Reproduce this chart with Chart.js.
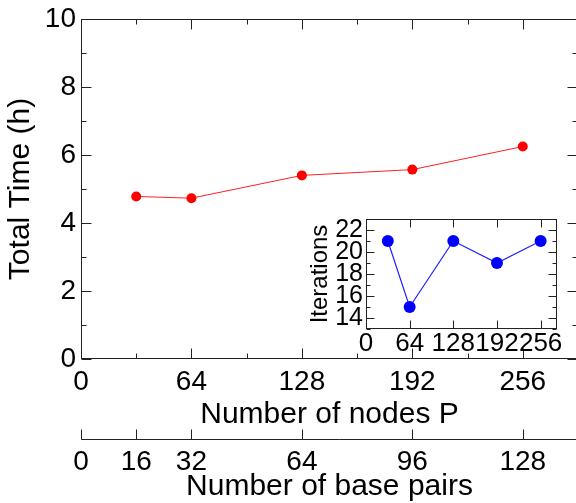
<!DOCTYPE html>
<html>
<head>
<meta charset="utf-8">
<script src="https://cdn.jsdelivr.net/npm/chart.js@4"></script>
<style>
  html, body { margin: 0; padding: 0; background: #fff; overflow: hidden; width: 576px; height: 503px; }
  #main { position: absolute; left: 0; top: 0; }
  #inset { position: absolute; left: 300px; top: 200px; }
</style>
</head>
<body>
<canvas id="main" width="600" height="503"></canvas>
<canvas id="inset" width="276" height="160"></canvas>
<script>
// main plot: total time vs number of nodes
const nodes = [32, 64, 128, 192, 256];
const totalHours = [4.78, 4.73, 5.40, 5.57, 6.25];
const nodeTicks = [0, 64, 128, 192, 256];
const nodeMinor = [32, 96, 160, 224];
const hourTicks = [0, 2, 4, 6, 8, 10];
const hourMinor = [1, 3, 5, 7, 9];
// second axis under the main one (base pairs = nodes / 2)
const basePairTicks = [0, 16, 32, 64, 96, 128];

// inset: iterations vs nodes
const iterations = [21, 15, 21, 19, 21];
const insetNodeTicks = [0, 64, 128, 192, 256];
const iterTicks = [14, 16, 18, 20, 22];
const iterMinor = [13, 15, 17, 19, 21, 23];

const FONT = "'Liberation Sans', Arial, sans-serif";
const AXIS_COLOR = '#222';

// draws the closed frame and the inward tick marks (xmgrace style)
const frameTicks = {
  id: 'frameTicks',
  beforeDatasetsDraw(chart, args, opts) {
    const { ctx, chartArea: a } = chart;
    const xs = chart.scales.x, ys = chart.scales.y;
    const L = Math.round(a.left) + 0.5, R = Math.round(a.right) - 0.5;
    const T = Math.round(a.top) + 0.5, B = Math.round(a.bottom) - 0.5;
    ctx.save();
    ctx.strokeStyle = AXIS_COLOR;
    ctx.lineWidth = 1;
    ctx.strokeRect(L, T, R - L, B - T);
    ctx.beginPath();
    const xMark = (vals, len) => vals.forEach(v => {
      const px = Math.round(xs.getPixelForValue(v)) + 0.5;
      ctx.moveTo(px, B); ctx.lineTo(px, B - len);
      ctx.moveTo(px, T); ctx.lineTo(px, T + len);
    });
    const yMark = (vals, len) => vals.forEach(v => {
      const py = Math.round(ys.getPixelForValue(v)) + 0.5;
      ctx.moveTo(L, py); ctx.lineTo(L + len, py);
      ctx.moveTo(R, py); ctx.lineTo(R - len, py);
    });
    xMark(opts.xMajor, opts.major);
    xMark(opts.xMinor, opts.minor);
    yMark(opts.yMajor, opts.major);
    yMark(opts.yMinor, opts.minor);
    // extra axis (base pairs), ticks pointing up
    const bp = chart.scales.bp;
    if (bp) {
      const y = Math.round(bp.top) + 0.5;
      ctx.moveTo(L, y); ctx.lineTo(a.right + 20, y);
      basePairTicks.forEach(v => {
        const px = Math.round(bp.getPixelForValue(v)) + 0.5;
        ctx.moveTo(px, y); ctx.lineTo(px, y - opts.major);
      });
    }
    ctx.stroke();
    ctx.restore();
  }
};

const setTicks = list => scale => { scale.ticks = list.map(v => ({ value: v })); };

const tickFont = size => ({ family: FONT, size: size, lineHeight: 1 });

new Chart(document.getElementById('main'), {
  type: 'scatter',
  data: {
    datasets: [{
      data: nodes.map((n, i) => ({ x: n, y: totalHours[i] })),
      showLine: true,
      borderColor: '#ff2020',
      borderWidth: 1,
      pointRadius: 5,
      pointBackgroundColor: '#ff0000',
      pointBorderWidth: 0,
      xAxisID: 'x',
      yAxisID: 'y'
    }]
  },
  options: {
    responsive: false,
    animation: false,
    devicePixelRatio: 1,
    layout: { padding: { top: 18, right: 22, left: 0, bottom: 0 } },
    plugins: {
      legend: { display: false },
      tooltip: { enabled: false },
      frameTicks: {
        xMajor: nodeTicks, xMinor: nodeMinor,
        yMajor: hourTicks, yMinor: hourMinor,
        major: 10, minor: 5
      }
    },
    scales: {
      x: {
        type: 'linear', position: 'bottom', weight: 0,
        min: 0, max: 288,
        afterBuildTicks: setTicks(nodeTicks),
        afterFit: s => { s.height = 80; },
        grid: { display: false, drawTicks: false },
        border: { display: false },
        ticks: { font: tickFont(28), color: '#000', padding: 9, autoSkip: false, maxRotation: 0, minRotation: 0 },
        title: { display: true, text: 'Number of nodes P', color: '#000', font: tickFont(30), padding: { top: 0, bottom: 9 } }
      },
      bp: {
        type: 'linear', position: 'bottom', axis: 'x', weight: 1,
        min: 0, max: 144,
        afterBuildTicks: setTicks(basePairTicks),
        afterFit: s => { s.height = 64; },
        grid: { display: false, drawTicks: false },
        border: { display: false },
        ticks: { font: tickFont(28), color: '#000', padding: 9, autoSkip: false, maxRotation: 0, minRotation: 0 },
        title: { display: true, text: 'Number of base pairs', color: '#000', font: tickFont(30), padding: { top: 0, bottom: 1 } }
      },
      y: {
        type: 'linear', position: 'left',
        min: 0, max: 10,
        afterBuildTicks: setTicks(hourTicks),
        afterFit: s => { s.width = 81; },
        grid: { display: false, drawTicks: false },
        border: { display: false },
        ticks: { font: tickFont(28), color: '#000', padding: 5, autoSkip: false },
        title: { display: true, text: 'Total Time (h)', color: '#000', font: tickFont(30), padding: { top: 6, bottom: 0 } }
      }
    }
  },
  plugins: [frameTicks]
});

new Chart(document.getElementById('inset'), {
  type: 'scatter',
  data: {
    datasets: [{
      data: nodes.map((n, i) => ({ x: n, y: iterations[i] })),
      showLine: true,
      borderColor: '#2020ff',
      borderWidth: 1.2,
      pointRadius: 6,
      pointBackgroundColor: '#0000ff',
      pointBorderWidth: 0
    }]
  },
  options: {
    responsive: false,
    animation: false,
    devicePixelRatio: 1,
    layout: { padding: { top: 19, right: 19, left: 0, bottom: 0 } },
    plugins: {
      legend: { display: false },
      tooltip: { enabled: false },
      frameTicks: {
        xMajor: insetNodeTicks, xMinor: [],
        yMajor: iterTicks, yMinor: iterMinor,
        major: 8, minor: 4
      }
    },
    scales: {
      x: {
        type: 'linear', position: 'bottom',
        min: 0, max: 280,
        afterBuildTicks: setTicks(insetNodeTicks),
        afterFit: s => { s.height = 31; },
        grid: { display: false, drawTicks: false },
        border: { display: false },
        ticks: { font: tickFont(26), color: '#000', padding: 2, autoSkip: false, maxRotation: 0, minRotation: 0 }
      },
      y: {
        type: 'linear', position: 'left',
        min: 13, max: 23,
        afterBuildTicks: setTicks(iterTicks),
        afterFit: s => { s.width = 66; },
        grid: { display: false, drawTicks: false },
        border: { display: false },
        ticks: { font: tickFont(25), color: '#000', padding: 3, autoSkip: false },
        title: { display: true, text: 'Iterations', color: '#000', font: tickFont(24), padding: { top: 8, bottom: 0 } }
      }
    }
  },
  plugins: [frameTicks]
});
</script>
</body>
</html>
